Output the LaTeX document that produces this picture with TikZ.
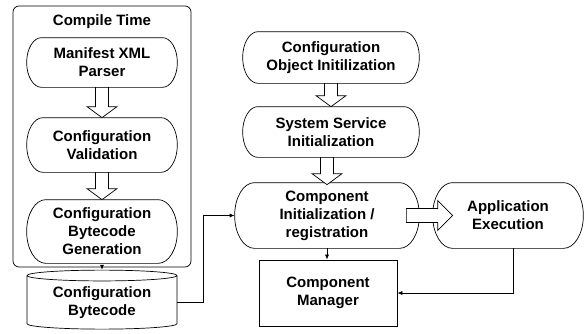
\documentclass[tikz,border=0pt]{standalone}
\usepackage{fontspec}
\setmainfont{Liberation Sans}
\usetikzlibrary{arrows.meta,shapes.geometric,calc}

\begin{document}
\begin{tikzpicture}[x=1pt,y=1pt,line width=0.7pt,
    every node/.style={font=\fontsize{15}{18}\selectfont\bfseries,align=center},
    block/.style={minimum width=150pt,inner sep=0pt},
    fatdown/.style={draw,fill=white,to path={let \p1=(\tikztostart), \p2=(\tikztotarget) in
        (\x1-6.5pt,\y1) -- (\x1+6.5pt,\y1) -- (\x1+6.5pt,\y2+11pt) -- (\x1+15pt,\y2+11pt)
        -- (\x1,\y2) -- (\x1-15pt,\y2+11pt) -- (\x1-6.5pt,\y2+11pt) -- cycle}},
    fatright/.style={draw,fill=white,to path={let \p1=(\tikztostart), \p2=(\tikztotarget) in
        (\x1,\y1+7pt) -- (\x2-15pt,\y1+7pt) -- (\x2-15pt,\y1+15pt) -- (\x2,\y1)
        -- (\x2-15pt,\y1-15pt) -- (\x2-15pt,\y1-7pt) -- (\x1,\y1-7pt) -- cycle}},
    line/.style={-{Latex[length=5pt,width=4pt]}}]
\useasboundingbox (0,0) rectangle (584,333);
% compile time part
\node [draw,rounded corners=6pt,minimum width=178pt,minimum height=261pt] (compile) at (102,196.5) {};
\node (ctitle) at (102,311) {Compile Time};
\node [block,minimum height=49pt] (parser) at (102,270.5) {Manifest XML\\Parser};
\node [block,minimum height=54pt] (valid) at (102,188) {Configuration\\Validation};
\node [block,minimum height=63pt] (gen) at (102,101.5) {Configuration\\Bytecode\\Generation};
\node [draw,cylinder,shape border rotate=90,aspect=0.11,minimum width=150pt,minimum height=59pt,inner sep=0pt] (store) at (102,30.5) {Configuration\\Bytecode};
% run time part
\node [block,minimum width=176pt,minimum height=51pt] (cfgobj) at (331,275.5) {Configuration\\Object Initilization};
\node [block,minimum width=176pt,minimum height=50pt] (syssvc) at (331,201) {System Service\\Initialization};
\node [block,minimum width=184pt,minimum height=65pt] (compinit) at (327,117.5) {Component\\Initialization /\\registration};
\node [block,minimum width=150pt,minimum height=65pt] (appexec) at (508,117.5) {Application\\Execution};
\node [draw,minimum width=138pt,minimum height=66pt] (mgr) at (328,40) {Component\\Manager};
% outlines with elliptic ends
\foreach \b in {parser,valid,gen,cfgobj,syssvc,compinit,appexec}
  \draw let \p1=(\b.north west), \p2=(\b.south east), \n1={(\y1-\y2)/2}, \n2={0.6*\n1} in
    (\x1+\n2,\y1) -- (\x2-\n2,\y1) arc[start angle=90,end angle=-90,x radius=\n2,y radius=\n1]
    -- (\x1+\n2,\y2) arc[start angle=270,end angle=90,x radius=\n2,y radius=\n1] -- cycle;
% fat arrows
\draw [fatdown] (parser.south) to (valid.north);
\draw [fatdown] (valid.south) to (gen.north);
\draw [fatdown] (cfgobj.south) to (syssvc.north);
\draw [fatdown] ([xshift=-4pt]syssvc.south) to ([yshift=-2pt]compinit.north);
\draw [fatright] ([xshift=-13pt]compinit.east) to ([xshift=20pt]appexec.west);
% thin connectors
\draw [line] (compile.south) -- (compile.south |- store.north);
\draw [line] (store.east) -- ++(26,0) |- (compinit.west);
\draw [line] (compinit.south) -- (compinit.south |- mgr.north);
\draw [line] ([xshift=5pt]appexec.south) |- (mgr.east);
\end{tikzpicture}
\end{document}
